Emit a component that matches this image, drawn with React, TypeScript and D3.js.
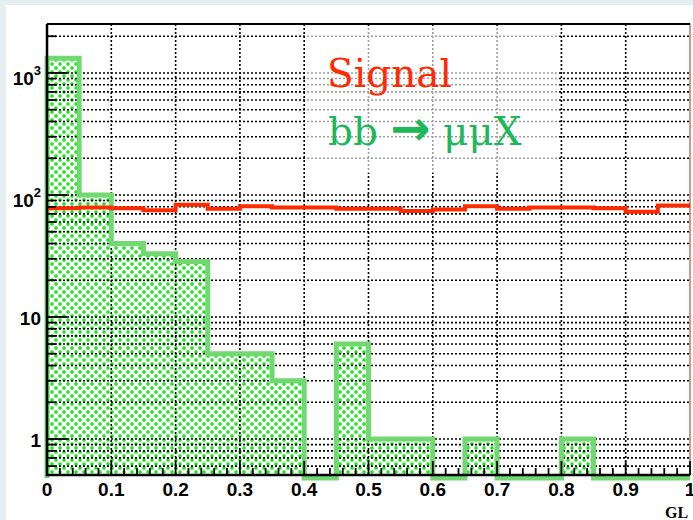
import React, { useEffect, useRef } from 'react';
import * as d3 from 'd3';

// lower edges of the 20 bins (width 0.05)
const binLow = [0, 0.05, 0.1, 0.15, 0.2, 0.25, 0.3, 0.35, 0.4, 0.45, 0.5, 0.55, 0.6, 0.65, 0.7, 0.75, 0.8, 0.85, 0.9, 0.95];
const binWidth = 0.05;

// bb -> mumuX background
const bkgCounts = [1320, 100, 40, 33, 28.5, 5, 5, 3, 0, 6, 1, 1, 0, 1, 0, 0, 1, 0, 0, 0];
// signal
const sigCounts = [78, 79, 78, 75, 83, 77, 81, 79, 79, 77, 77, 74, 76, 81, 77, 79, 79, 78, 73, 82];

const xTicks = [0, 0.1, 0.2, 0.3, 0.4, 0.5, 0.6, 0.7, 0.8, 0.9, 1];
const xTickLabels = ['0', '0.1', '0.2', '0.3', '0.4', '0.5', '0.6', '0.7', '0.8', '0.9', '1'];
const yMajor = [1, 10, 100, 1000];
const yMajorBase = ['1', '10', '10', '10'];
const yMajorExp = ['', '', '2', '3'];
const yDomain = [0.507, 2520];

const W = 693;
const H = 520;

const App: React.FC = () => {
  const svgRef = useRef<SVGSVGElement>(null);

  useEffect(() => {
    if (!svgRef.current) return;
    const svg = d3.select(svgRef.current);
    svg.selectAll('*').remove();

    const left = 47, right = 690, top = 24, bottom = 475;
    const x = d3.scaleLinear().domain([0, 1]).range([left, right]);
    const y = d3.scaleLog().domain(yDomain).range([bottom, top]);

    // slide background + white panel
    svg.append('rect').attr('width', W).attr('height', H).attr('fill', '#e6eef2');
    svg.append('rect').attr('x', 6).attr('y', 5).attr('width', W - 6).attr('height', H - 5).attr('fill', '#fff');

    // hatch pattern
    const defs = svg.append('defs');
    const pat = defs.append('pattern')
      .attr('id', 'hatch')
      .attr('patternUnits', 'userSpaceOnUse')
      .attr('width', 8)
      .attr('height', 8);
    pat.append('rect').attr('width', 8).attr('height', 8).attr('fill', '#12f012');
    pat.append('path')
      .attr('d', 'M-2,-2L10,10M10,-2L-2,10')
      .attr('stroke', '#fff')
      .attr('stroke-width', 2.6);

    const bins = binLow.map((lo, i) => ({ lo, hi: lo + binWidth, bkg: bkgCounts[i], sig: sigCounts[i] }));

    // background fill
    const fillPts: [number, number][] = bins.map(b => [b.lo, b.bkg]);
    fillPts.push([1, bkgCounts[bkgCounts.length - 1]]);
    const area = d3.area<[number, number]>()
      .x(d => x(d[0]))
      .y0(bottom)
      .y1(d => (d[1] > 0 ? y(d[1]) : bottom))
      .curve(d3.curveStepAfter);
    svg.append('path').datum(fillPts).attr('d', area).attr('fill', 'url(#hatch)');

    // grid
    const yGrid: number[] = [];
    [0.1, 1, 10, 100, 1000].forEach(dec => {
      for (let m = 1; m <= 9; m++) {
        const v = m * dec;
        if (v >= yDomain[0] && v <= yDomain[1]) yGrid.push(v);
      }
    });
    const grid = svg.append('g').attr('stroke', '#000').attr('stroke-width', 1.6).attr('stroke-dasharray', '2,2');
    grid.selectAll('line.h').data(yGrid).enter().append('line')
      .attr('class', 'h')
      .attr('x1', left).attr('x2', right)
      .attr('y1', d => y(d)).attr('y2', d => y(d));
    grid.selectAll('line.v').data(xTicks.slice(1, -1)).enter().append('line')
      .attr('class', 'v')
      .attr('y1', top).attr('y2', bottom)
      .attr('x1', d => x(d)).attr('x2', d => x(d));

    // legend backdrop (semi transparent)
    svg.append('rect')
      .attr('x', 306).attr('y', 28).attr('width', 252).attr('height', 145)
      .attr('fill', '#fff').attr('opacity', 0.62);

    // background outline
    const linePts: [number, number][] = [[0, 0], ...fillPts, [1, 0]];
    const outline = d3.line<[number, number]>()
      .x(d => x(d[0]))
      .y(d => (d[1] > 0 ? y(d[1]) : bottom + 3))
      .curve(d3.curveStepAfter);
    svg.append('path').datum(linePts).attr('d', outline)
      .attr('fill', 'none').attr('stroke', '#72d872').attr('stroke-width', 5);

    // signal
    const sigPts: [number, number][] = bins.map(b => [b.lo, b.sig]);
    sigPts.push([1, sigCounts[sigCounts.length - 1]]);
    const sigLine = d3.line<[number, number]>()
      .x(d => x(d[0]))
      .y(d => y(d[1]))
      .curve(d3.curveStepAfter);
    svg.append('path').datum(sigPts).attr('d', sigLine)
      .attr('fill', 'none').attr('stroke', '#ff2a00').attr('stroke-width', 4);

    // frame
    svg.append('rect').attr('x', left).attr('y', top).attr('width', right - left).attr('height', bottom - top)
      .attr('fill', 'none').attr('stroke', '#b02a1a').attr('stroke-width', 1);
    svg.append('line').attr('x1', left).attr('x2', right).attr('y1', top).attr('y2', top)
      .attr('stroke', '#000').attr('stroke-width', 2);

    // y axis
    const ax = svg.append('g').attr('stroke', '#000');
    ax.append('line').attr('x1', left).attr('x2', left).attr('y1', top).attr('y2', bottom + 1).attr('stroke-width', 2.5);
    ax.selectAll('line.yt').data(yGrid).enter().append('line')
      .attr('class', 'yt')
      .attr('x1', left).attr('x2', d => left + (yMajor.includes(d) ? 20 : 9))
      .attr('y1', d => y(d)).attr('y2', d => y(d))
      .attr('stroke-width', 1.8);

    // x axis
    ax.append('line').attr('x1', left - 1).attr('x2', right).attr('y1', bottom).attr('y2', bottom).attr('stroke-width', 2.5);
    const xMinor: number[] = [];
    for (let i = 0; i <= 50; i++) xMinor.push(i / 50);
    ax.selectAll('line.xt').data(xMinor).enter().append('line')
      .attr('class', 'xt')
      .attr('x1', d => x(d)).attr('x2', d => x(d))
      .attr('y1', bottom).attr('y2', (_, i) => bottom - (i % 5 === 0 ? 14 : 7))
      .attr('stroke-width', 1.8);

    const font = "'Liberation Sans', Arial, sans-serif";
    svg.append('g').selectAll('text').data(xTicks).enter().append('text')
      .attr('x', d => x(d)).attr('y', 496)
      .attr('text-anchor', 'middle')
      .style('font-family', font).style('font-weight', 'bold').style('font-size', '19px')
      .text((_, i) => xTickLabels[i]);

    yMajor.forEach((v, i) => {
      const t = svg.append('text')
        .attr('x', 41)
        .attr('y', y(v) + (yMajorExp[i] ? 12 : 8))
        .attr('text-anchor', 'end')
        .style('font-family', font).style('font-weight', 'bold').style('font-size', '19px');
      t.append('tspan').text(yMajorBase[i]);
      if (yMajorExp[i]) {
        t.append('tspan').attr('dy', -10).style('font-size', '13px').text(yMajorExp[i]);
      }
    });

    // axis title (cut at the edge)
    svg.append('text')
      .attr('x', 665).attr('y', 518)
      .style('font-family', "'Liberation Serif', serif").style('font-weight', 'bold').style('font-size', '16px')
      .text('GL');

    // legend
    const serif = "'DejaVu Serif', serif";
    svg.append('text')
      .attr('x', 327).attr('y', 87)
      .attr('fill', '#ff2a00')
      .style('font-family', serif).style('font-size', '39px')
      .text('Signal');
    const l2 = svg.append('text')
      .attr('x', 328).attr('y', 145)
      .attr('fill', '#1db85a')
      .style('font-family', serif).style('font-size', '39px');
    l2.append('tspan').text('bb ');
    l2.append('tspan')
      .style('font-family', "'DejaVu Sans', sans-serif").style('font-weight', 'bold').style('font-size', '48px')
      .text('→');
    l2.append('tspan').text(' μμX');
  }, []);

  return (
    <svg
      ref={svgRef}
      width={W}
      height={H}
      style={{ position: 'absolute', left: 0, top: 0, display: 'block' }}
    />
  );
};

export default App;
